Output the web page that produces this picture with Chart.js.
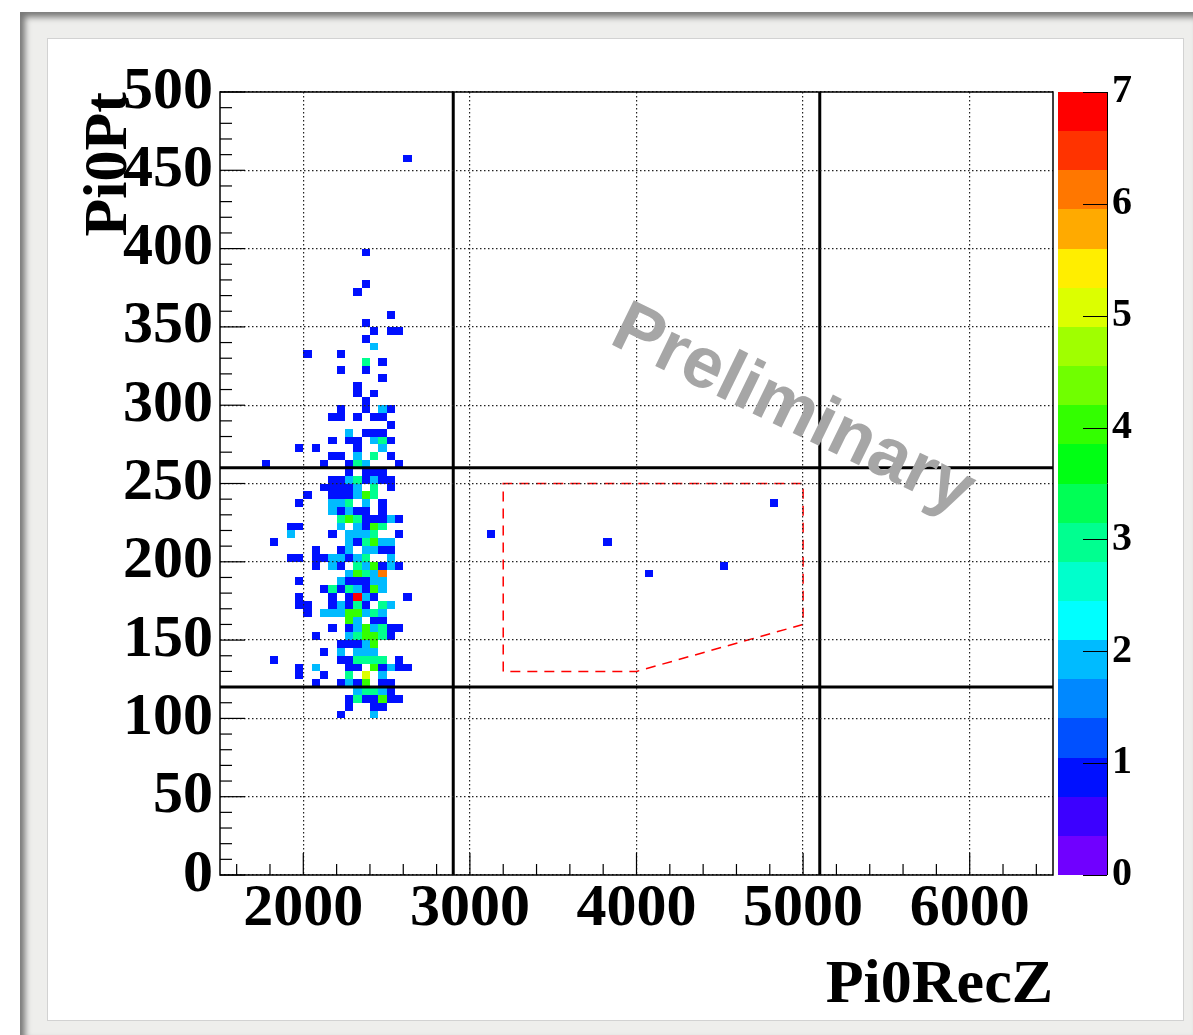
<!DOCTYPE html>
<html>
<head>
<meta charset="utf-8">
<title>Pi0Pt vs Pi0RecZ</title>
<script src="https://cdn.jsdelivr.net/npm/chart.js@4.4.1/dist/chart.umd.min.js"></script>
<style>
    html, body { margin: 0; padding: 0; background: #fff; }
    .frame {
        position: absolute; left: 20px; top: 12px; width: 1173px; height: 1023px;
        background: #eeeeec; box-shadow: inset 5px 5px 6px rgba(0, 0, 0, 0.5);
    }
    .panel {
        position: absolute; left: 47px; top: 38px; width: 1135px; height: 981px;
        background: #fff; border: 1px solid #d2d2d2;
    }
    .wrap { position: absolute; left: 0; top: 0; width: 1193px; height: 1035px; }
</style>
</head>
<body>
<div class="frame"></div>
<div class="panel"></div>
<div class="wrap"><canvas id="chartPt"></canvas></div>
<script>
// =============================================
// Pi0Pt vs Pi0RecZ - histograma 2D (colz)
// =============================================

// ---- binning y rangos ----
const BIN_W = 50;            // ancho de bin en Pi0RecZ
const BIN_H = 5;             // ancho de bin en Pi0Pt
const X_RANGE = [1500, 6500];
const Y_RANGE = [0, 500];
const Z_RANGE = [0, 7];

// ---- ticks ----
const X_TICKS = [2000, 3000, 4000, 5000, 6000];
const Y_TICKS = [0, 50, 100, 150, 200, 250, 300, 350, 400, 450, 500];
const Z_TICKS = [0, 1, 2, 3, 4, 5, 6, 7];
const X_MINOR = 200;
const Y_MINOR = 10;

// ---- cortes (lineas negras) ----
const CUT_Z = [2900, 5100];
const CUT_PT = [120, 260];

// ---- region de senal (linea roja discontinua) ----
const REGION_X = [3200, 3200, 5000, 5000, 4000, 3200];
const REGION_Y = [130, 250, 250, 160, 130, 130];

// ---- paleta: 20 niveles de 0 a 7 ----
const PALETTE = [
    '#7000ff', '#3c00ff', '#0010ff', '#0050ff', '#0088ff',
    '#00bbff', '#00ffff', '#00ffcc', '#00ff90', '#00ff55',
    '#00ff14', '#33ff00', '#70ff00', '#a0ff00', '#dcff00',
    '#ffee00', '#ffaa00', '#ff7700', '#ff3300', '#ff0000'
];

// ---- celdas: [Pi0RecZ borde inferior, Pi0Pt borde inferior, cuentas] ----
const cells = [
    [2600, 455, 1], [2350, 395, 1], [2350, 375, 1], [2300, 370, 1], [2500, 355, 1], [2350, 350, 1],
    [2400, 345, 1], [2500, 345, 1], [2550, 345, 1],
    [2350, 340, 1],
    [2400, 335, 2],
    [2000, 330, 1], [2200, 330, 1],
    [2350, 325, 3], [2450, 325, 1],
    [2200, 320, 1], [2350, 320, 1],
    [2450, 315, 1],
    [2300, 310, 1],
    [2300, 305, 1], [2400, 305, 1],
    [2350, 300, 1],
    [2200, 295, 1], [2350, 295, 1], [2450, 295, 2], [2500, 295, 1],
    [2150, 290, 1], [2200, 290, 1], [2300, 290, 1], [2400, 290, 1], [2450, 290, 1],
    [2500, 285, 1],
    [2250, 280, 2], [2350, 280, 1], [2400, 280, 1], [2450, 280, 1],
    [2150, 275, 1], [2250, 275, 1], [2300, 275, 1], [2400, 275, 2], [2450, 275, 3], [2500, 275, 1],
    [1950, 270, 1], [2050, 270, 1], [2300, 270, 1], [2450, 270, 2],
    [2150, 265, 1], [2200, 265, 1], [2300, 265, 2], [2400, 265, 3], [2500, 265, 1],
    [1750, 260, 1], [2100, 260, 1], [2250, 260, 1], [2300, 260, 3], [2350, 260, 2], [2550, 260, 1],
    [2250, 255, 1], [2350, 255, 1], [2400, 255, 1], [2450, 255, 1],
    [2150, 250, 1], [2200, 250, 1], [2250, 250, 2], [2300, 250, 3], [2350, 250, 1], [2400, 250, 2], [2450, 250, 1], [2500, 250, 1],
    [2100, 245, 1], [2150, 245, 1], [2200, 245, 1], [2250, 245, 1], [2300, 245, 2], [2400, 245, 3], [2500, 245, 1],
    [2000, 240, 1], [2150, 240, 1], [2200, 240, 1], [2250, 240, 1], [2300, 240, 2], [2350, 240, 4], [2400, 240, 3],
    [1950, 235, 1], [2150, 235, 2], [2200, 235, 2], [2250, 235, 3], [2350, 235, 2], [2450, 235, 1],
    [2150, 230, 2], [2200, 230, 1], [2250, 230, 2], [2300, 230, 1], [2350, 230, 1], [2450, 230, 1],
    [2200, 225, 3], [2250, 225, 4], [2300, 225, 3], [2350, 225, 1], [2400, 225, 1], [2450, 225, 1], [2500, 225, 2], [2550, 225, 1],
    [1900, 220, 1], [1950, 220, 1], [2200, 220, 2], [2300, 220, 2], [2350, 220, 1], [2400, 220, 4], [2450, 220, 3],
    [1900, 215, 2], [2150, 215, 1], [2250, 215, 2], [2300, 215, 2], [2350, 215, 2], [2400, 215, 3], [2550, 215, 1],
    [1800, 210, 1], [2250, 210, 2], [2300, 210, 1], [2350, 210, 3], [2400, 210, 4], [2450, 210, 2], [2500, 210, 2],
    [2050, 205, 1], [2200, 205, 1], [2250, 205, 2], [2350, 205, 2], [2400, 205, 2], [2450, 205, 1], [2500, 205, 1],
    [1900, 200, 1], [1950, 200, 1], [2050, 200, 1], [2100, 200, 1], [2150, 200, 2], [2200, 200, 2], [2250, 200, 1], [2300, 200, 2], [2350, 200, 3], [2500, 200, 2],
    [2050, 195, 1], [2150, 195, 2], [2200, 195, 1], [2300, 195, 3], [2350, 195, 2], [2400, 195, 4], [2450, 195, 1], [2500, 195, 2], [2550, 195, 1],
    [2250, 190, 2], [2300, 190, 4], [2350, 190, 3], [2400, 190, 2], [2450, 190, 6],
    [1950, 185, 1], [2200, 185, 2], [2250, 185, 1], [2300, 185, 1], [2350, 185, 1], [2400, 185, 2], [2450, 185, 2],
    [2100, 180, 1], [2150, 180, 3], [2200, 180, 1], [2250, 180, 3], [2300, 180, 2], [2350, 180, 1], [2400, 180, 4], [2450, 180, 2],
    [1950, 175, 1], [2150, 175, 1], [2250, 175, 1], [2300, 175, 7], [2350, 175, 2], [2400, 175, 1], [2600, 175, 1],
    [1950, 170, 1], [2000, 170, 1], [2150, 170, 1], [2200, 170, 2], [2250, 170, 1], [2300, 170, 3], [2350, 170, 1], [2450, 170, 3], [2500, 170, 2],
    [2000, 165, 1], [2100, 165, 2], [2150, 165, 2], [2200, 165, 2], [2250, 165, 4], [2300, 165, 4], [2350, 165, 2], [2400, 165, 3], [2450, 165, 2],
    [2250, 160, 4], [2300, 160, 2], [2400, 160, 1], [2450, 160, 1],
    [2150, 155, 1], [2250, 155, 1], [2300, 155, 2], [2350, 155, 4], [2400, 155, 2], [2450, 155, 3], [2500, 155, 1], [2550, 155, 1],
    [2050, 150, 1], [2250, 150, 2], [2300, 150, 3], [2350, 150, 4], [2400, 150, 4], [2450, 150, 3], [2500, 150, 1],
    [2200, 145, 1], [2250, 145, 1], [2300, 145, 1], [2350, 145, 2], [2400, 145, 4],
    [2100, 140, 1], [2200, 140, 2], [2300, 140, 2], [2350, 140, 2], [2400, 140, 2],
    [1800, 135, 1], [2200, 135, 1], [2250, 135, 1], [2300, 135, 3], [2350, 135, 3], [2400, 135, 3], [2450, 135, 3], [2550, 135, 1],
    [1950, 130, 1], [2050, 130, 2], [2250, 130, 1], [2300, 130, 1], [2400, 130, 4], [2450, 130, 1], [2500, 130, 2], [2550, 130, 1], [2600, 130, 1],
    [1950, 125, 1], [2100, 125, 1], [2250, 125, 3], [2350, 125, 5], [2450, 125, 2],
    [2050, 120, 1], [2200, 120, 1], [2250, 120, 2], [2300, 120, 1], [2350, 120, 4], [2450, 120, 1], [2500, 120, 1],
    [2300, 115, 2], [2350, 115, 3], [2400, 115, 3], [2450, 115, 2], [2500, 115, 1],
    [2250, 110, 1], [2300, 110, 3], [2350, 110, 1], [2400, 110, 1], [2450, 110, 4], [2500, 110, 1], [2550, 110, 1],
    [2250, 105, 1], [2400, 105, 1], [2450, 105, 1],
    [2200, 100, 1], [2400, 100, 2],
    // dentro de la region de senal
    [3100, 215, 1], [3800, 210, 1], [4050, 190, 1], [4500, 195, 1], [4800, 235, 1]
];

const WATERMARK = 'Preliminary';
const WATERMARK_AT = [4885, 285];   // (Pi0RecZ, Pi0Pt) del centro del texto

(function() {
    'use strict';

    const SERIF = '"Liberation Serif", "Times New Roman", serif';

    function colorFor(n) {
        const lvl = Math.floor((n - Z_RANGE[0]) / (Z_RANGE[1] - Z_RANGE[0]) * PALETTE.length);
        return PALETTE[Math.max(0, Math.min(PALETTE.length - 1, lvl))];
    }

    // celdas del histograma, dibujadas con las escalas del grafico
    const histPlugin = {
        id: 'hist2d',
        beforeDatasetsDraw(chart) {
            const { ctx, chartArea: a, scales: { x, y } } = chart;
            ctx.save();
            ctx.beginPath();
            ctx.rect(a.left, a.top, a.width, a.height);
            ctx.clip();
            cells.forEach(([cx, cy, n]) => {
                const x0 = Math.round(x.getPixelForValue(cx));
                const x1 = Math.round(x.getPixelForValue(cx + BIN_W));
                const y0 = Math.round(y.getPixelForValue(cy));
                const y1 = Math.round(y.getPixelForValue(cy + BIN_H));
                ctx.fillStyle = colorFor(n);
                ctx.fillRect(x0, y1, x1 - x0, y0 - y1);
            });
            ctx.restore();
        }
    };

    // marco, ticks hacia dentro (estilo ROOT) y barra de color
    const axesPlugin = {
        id: 'rootAxes',
        afterDraw(chart) {
            const { ctx, chartArea: a, scales: { x, y, z } } = chart;
            const line = (x1, y1, x2, y2) => {
                ctx.beginPath(); ctx.moveTo(x1, y1); ctx.lineTo(x2, y2); ctx.stroke();
            };
            ctx.save();

            // barra de color
            const barL = a.right + 5, barR = a.right + 54;
            const step = (Z_RANGE[1] - Z_RANGE[0]) / PALETTE.length;
            PALETTE.forEach((c, i) => {
                const top = Math.round(z.getPixelForValue(Z_RANGE[0] + (i + 1) * step));
                const bot = Math.round(z.getPixelForValue(Z_RANGE[0] + i * step));
                ctx.fillStyle = c;
                ctx.fillRect(barL, top, barR - barL, bot - top);
            });
            ctx.strokeStyle = '#000';
            ctx.lineWidth = 1;
            line(barR + 0.5, z.top, barR + 0.5, z.bottom);
            Z_TICKS.forEach(v => {
                const py = Math.round(z.getPixelForValue(v)) + 0.5;
                line(barR - 24, py, barR, py);
            });

            // ticks menores y mayores
            ctx.lineWidth = 1.2;
            for (let v = Math.ceil(X_RANGE[0] / X_MINOR) * X_MINOR; v <= X_RANGE[1]; v += X_MINOR) {
                const px = x.getPixelForValue(v);
                const len = X_TICKS.includes(v) ? 22 : 11;
                line(px, a.bottom, px, a.bottom - len);
            }
            for (let v = Y_RANGE[0]; v <= Y_RANGE[1]; v += Y_MINOR) {
                const py = y.getPixelForValue(v);
                const len = Y_TICKS.includes(v) ? 25 : 12;
                line(a.left, py, a.left + len, py);
            }

            // marco
            ctx.lineWidth = 1.5;
            ctx.strokeRect(a.left, a.top, a.width, a.height);
            ctx.restore();
        }
    };

    const watermarkPlugin = {
        id: 'watermark',
        afterDraw(chart) {
            const { ctx, scales: { x, y } } = chart;
            ctx.save();
            ctx.translate(x.getPixelForValue(WATERMARK_AT[0]), y.getPixelForValue(WATERMARK_AT[1]));
            ctx.rotate(26 * Math.PI / 180);
            ctx.font = 'bold 72px "Liberation Sans", Arial, sans-serif';
            ctx.fillStyle = '#a6a6a6';
            ctx.textAlign = 'center';
            ctx.textBaseline = 'alphabetic';
            ctx.fillText(WATERMARK, 0, 0);
            ctx.restore();
        }
    };

    const cutDatasets = [
        ...CUT_Z.map(v => ({ data: [{ x: v, y: Y_RANGE[0] }, { x: v, y: Y_RANGE[1] }] })),
        ...CUT_PT.map(v => ({ data: [{ x: X_RANGE[0], y: v }, { x: X_RANGE[1], y: v }] }))
    ].map(ds => Object.assign(ds, {
        showLine: true, borderColor: '#000', borderWidth: 3, pointRadius: 0, fill: false
    }));

    const regionDataset = {
        data: REGION_X.map((v, i) => ({ x: v, y: REGION_Y[i] })),
        showLine: true,
        borderColor: '#ff0000',
        borderWidth: 1.5,
        borderDash: [10, 7],
        pointRadius: 0,
        fill: false
    };

    const gridOpts = { color: '#222', lineWidth: 1.2, drawTicks: false, z: 1 };
    const borderOpts = { display: false, dash: [1.5, 2.5] };

    new Chart(document.getElementById('chartPt'), {
        type: 'scatter',
        data: { datasets: [regionDataset, ...cutDatasets] },
        options: {
            responsive: true,
            maintainAspectRatio: false,
            animation: false,
            layout: { padding: { top: 92, left: 0, right: 0, bottom: 0 } },
            plugins: { legend: { display: false }, tooltip: { enabled: false } },
            scales: {
                x: {
                    type: 'linear', position: 'bottom',
                    min: X_RANGE[0], max: X_RANGE[1],
                    afterBuildTicks: s => { s.ticks = X_TICKS.map(v => ({ value: v })); },
                    afterFit: s => { s.height = 160; },
                    grid: gridOpts,
                    border: borderOpts,
                    ticks: {
                        color: '#000', padding: 4, maxRotation: 0, autoSkip: false,
                        font: { family: SERIF, size: 60, weight: 'bold', lineHeight: 1 },
                        callback: v => String(v)
                    },
                    title: {
                        display: true, text: 'Pi0RecZ', align: 'end', color: '#000',
                        font: { family: SERIF, size: 62, weight: 'bold' },
                        padding: { top: 0, bottom: 12 }
                    }
                },
                y: {
                    type: 'linear', position: 'left',
                    min: Y_RANGE[0], max: Y_RANGE[1],
                    afterBuildTicks: s => { s.ticks = Y_TICKS.map(v => ({ value: v })); },
                    afterFit: s => { s.width = 220; },
                    grid: gridOpts,
                    border: borderOpts,
                    ticks: {
                        color: '#000', padding: 7, autoSkip: false,
                        font: { family: SERIF, size: 60, weight: 'bold' },
                        callback: v => String(v)
                    },
                    title: {
                        display: true, text: 'Pi0Pt', align: 'end', color: '#000',
                        font: { family: SERIF, size: 62, weight: 'bold' },
                        padding: { top: 73, bottom: 0 }
                    }
                },
                z: {
                    type: 'linear', axis: 'y', position: 'right',
                    min: Z_RANGE[0], max: Z_RANGE[1],
                    afterBuildTicks: s => { s.ticks = Z_TICKS.map(v => ({ value: v })); },
                    afterFit: s => { s.width = 140; },
                    grid: { display: false, drawTicks: false },
                    border: { display: false },
                    ticks: {
                        color: '#000', padding: 59, autoSkip: false,
                        font: { family: SERIF, size: 40, weight: 'bold' },
                        callback: v => String(v)
                    }
                }
            }
        },
        plugins: [histPlugin, axesPlugin, watermarkPlugin]
    });
})();
</script>
</body>
</html>
